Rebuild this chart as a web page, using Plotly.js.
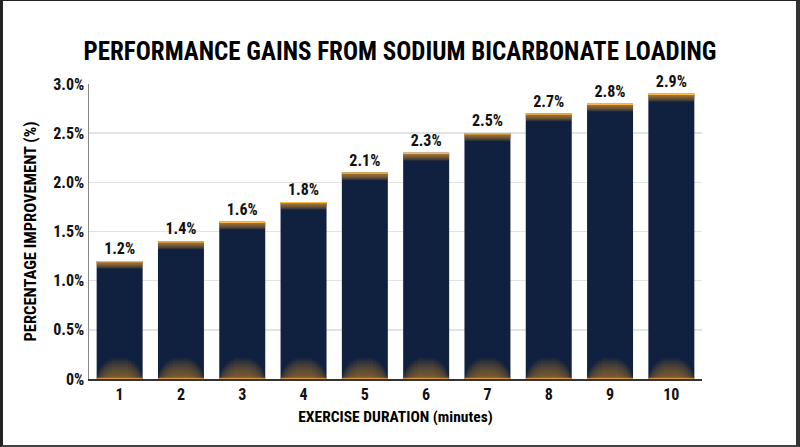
<!DOCTYPE html>
<html>
<head>
<meta charset="utf-8">
<script src="https://cdn.plot.ly/plotly-3.0.1.min.js"></script>
<style>
html,body{margin:0;padding:0;background:#fff;}
#wrap{position:relative;width:800px;height:447px;}
#chart{width:800px;height:447px;}
#frame{position:absolute;left:0;top:0;width:800px;height:447px;box-sizing:border-box;border-left:3px solid #222;border-top:1px solid #222;border-right:4px solid #333;border-bottom:2px solid #444;pointer-events:none;}
</style>
</head>
<body>
<div id="wrap"><div id="chart"></div><div id="frame"></div></div>
<script>
var durations = [1,2,3,4,5,6,7,8,9,10];
var improvement = [1.2,1.4,1.6,1.8,2.1,2.3,2.5,2.7,2.8,2.9];
var yTickVals = [0,0.5,1.0,1.5,2.0,2.5,3.0];
var yTickText = ['0%','0.5%','1.0%','1.5%','2.0%','2.5%','3.0%'];

var FONT = '"Liberation Sans Narrow", "Roboto Condensed", "Arial Narrow", "Liberation Sans", sans-serif';
var NAVY = '#10213f';
var BW = 0.75;

var traces = [];
traces.push({
  type:'bar', x:durations, y:improvement, width:BW,
  marker:{color:NAVY, line:{width:0}},
  text:improvement.map(function(v){return v.toFixed(1)+'%';}),
  textposition:'outside', cliponaxis:false,
  textfont:{family:FONT, size:16, color:'#111', weight:'bold'},
  hoverinfo:'skip'
});
// top glow: many thin layers for a smooth fade
for (var i = 1; i <= 10; i++) {
  var h = 0.008 * i;
  traces.push({type:'bar', x:durations, y:improvement.map(function(){return h;}),
    base:improvement.map(function(v){return v-h;}), width:BW,
    marker:{color:'rgba(245,160,45,0.11)', line:{width:0}}, hoverinfo:'skip'});
}
traces.push({type:'bar', x:durations, y:improvement.map(function(){return 0.013;}),
  base:improvement.map(function(v){return v-0.013;}), width:BW,
  marker:{color:'rgba(255,190,75,0.95)', line:{width:0}}, hoverinfo:'skip'});
// bottom glow: elliptical soft layers (short & wide -> tall & narrow)
for (var j = 1; j <= 14; j++) {
  var f = j / 15;
  var hh = 0.23 * f;
  var ww = BW * Math.sqrt(1 - f * f);
  traces.push({type:'bar', x:durations, y:durations.map(function(){return hh;}),
    base:0, width:ww,
    marker:{color:'rgba(240,150,40,0.05)', line:{width:0}}, hoverinfo:'skip'});
}
traces.push({type:'bar', x:durations, y:durations.map(function(){return 0.012;}),
  base:0, width:BW,
  marker:{color:'rgba(250,170,60,0.7)', line:{width:0}}, hoverinfo:'skip'});

var layout = {
  width:800, height:447,
  margin:{l:89, r:98, t:84, b:68},
  paper_bgcolor:'#fff', plot_bgcolor:'#fff',
  barmode:'overlay', showlegend:false,
  title:{text:'PERFORMANCE GAINS FROM SODIUM BICARBONATE LOADING',
    font:{family:FONT, size:25, color:'#000', weight:'bold'},
    x:0.5, xanchor:'center', y:0.885, yanchor:'middle'},
  xaxis:{range:[0.5,10.5], tickvals:durations, ticktext:durations.map(String),
    showgrid:false, zeroline:false, showline:true, linecolor:'#333', linewidth:1.5,
    ticks:'', ticklen:0,
    tickfont:{family:FONT, size:16, color:'#111', weight:'bold'},
    title:{text:'EXERCISE DURATION (minutes)', standoff:8,
      font:{family:FONT, size:15.5, color:'#000', weight:'bold'}}},
  yaxis:{range:[0,3.0], tickvals:yTickVals, ticktext:yTickText,
    showgrid:true, gridcolor:'#e3e3e3', gridwidth:1.5, zeroline:false,
    showline:true, linecolor:'#888', linewidth:1.5, ticks:'',
    tickfont:{family:FONT, size:16, color:'#111', weight:'bold'},
    title:{text:'PERCENTAGE IMPROVEMENT (%)', standoff:12,
      font:{family:FONT, size:16.5, color:'#000', weight:'bold'}}}
};
Plotly.newPlot('chart', traces, layout, {displayModeBar:false, staticPlot:true});
</script>
</body>
</html>
